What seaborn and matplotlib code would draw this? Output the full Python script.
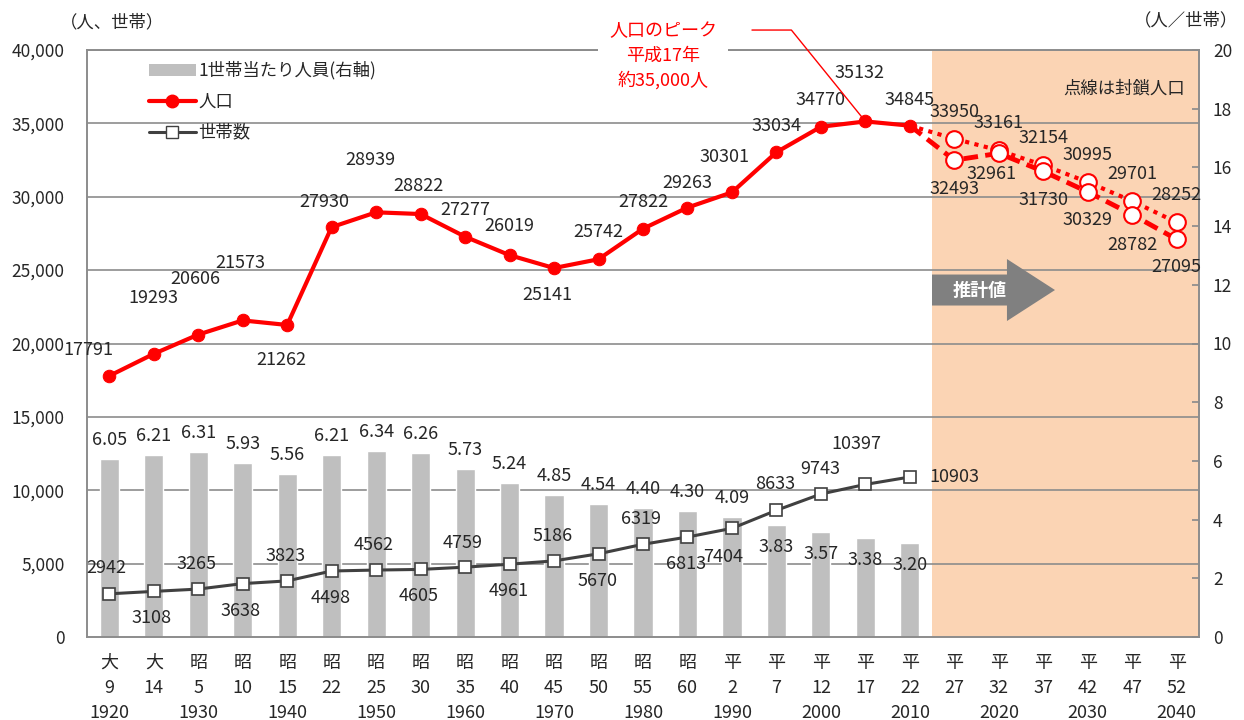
import matplotlib

matplotlib.use("Agg")
import matplotlib.pyplot as plt
import numpy as np
import pandas as pd
import seaborn as sns
from matplotlib.lines import Line2D
from matplotlib.patches import FancyArrow, Patch
from matplotlib.ticker import FuncFormatter, MultipleLocator

sns.set_theme(style="white")
plt.rcParams["font.family"] = ["Noto Sans CJK JP", "DejaVu Sans"]

# ---- data -------------------------------------------------------------
eras = ["大", "大", "昭", "昭", "昭", "昭", "昭", "昭", "昭", "昭", "昭", "昭", "昭",
        "昭", "平", "平", "平", "平", "平", "平", "平", "平", "平", "平", "平"]
era_years = ["9", "14", "5", "10", "15", "22", "25", "30", "35", "40", "45", "50",
             "55", "60", "2", "7", "12", "17", "22", "27", "32", "37", "42", "47", "52"]
years = ["1920", "", "1930", "", "1940", "", "1950", "", "1960", "", "1970", "",
         "1980", "", "1990", "", "2000", "", "2010", "", "2020", "", "2030", "", "2040"]

population = [17791, 19293, 20606, 21573, 21262, 27930, 28939, 28822, 27277, 26019,
              25141, 25742, 27822, 29263, 30301, 33034, 34770, 35132, 34845]
households = [2942, 3108, 3265, 3638, 3823, 4498, 4562, 4605, 4759, 4961,
              5186, 5670, 6319, 6813, 7404, 8633, 9743, 10397, 10903]
persons_per_household = [6.05, 6.21, 6.31, 5.93, 5.56, 6.21, 6.34, 6.26, 5.73, 5.24,
                         4.85, 4.54, 4.40, 4.30, 4.09, 3.83, 3.57, 3.38, 3.20]

# projections 平27..平52 (dotted = closed population)
closed_projection = [33950, 33161, 32154, 30995, 29701, 28252]
projection = [32493, 32961, 31730, 30329, 28782, 27095]

# label offsets in pixels (kept apart from the values)
pop_offsets = [(-21, 26), (0, 56), (-3, 56), (-2, 57), (-6, -35), (-7, 25), (-6, 52),
               (-2, 28), (0, 27), (0, 29), (-7, -27), (0, 27), (0, 27), (0, 25),
               (-7, 35), (0, 26), (0, 27), (-6, 48), (0, 26)]
hh_offsets = [(-3, 26), (-2, -27), (-2, 25), (-2, -27), (-2, 25), (-1, -27), (-2, 25),
              (-2, -27), (-2, 24), (-1, -27), (-1, 25), (-1, -27), (-2, 25), (-1, -27),
              (-9, -29), (-1, 26), (-1, 25), (-9, 40), (44, 0)]
bar_offsets = [19] * 15 + [-22] * 4
closed_offsets = [(0, 27)] * 6
proj_offsets = [(0, -29), (-7, -21), (0, -29), (0, -28), (0, -30), (0, -28)]

# ---- frames -------------------------------------------------------------
n_obs = len(population)
df_obs = pd.DataFrame({
    "pos": np.arange(n_obs),
    "population": population,
    "households": households,
    "persons": persons_per_household,
})
proj_pos = np.arange(n_obs - 1, n_obs + len(projection))
df_proj = pd.DataFrame({
    "pos": proj_pos,
    "closed": [population[-1]] + closed_projection,
    "open": [population[-1]] + projection,
})

RED = "#FF0000"
DARK = "#404040"
BAR = "#BFBFBF"
GRID = "#8C8C8C"
PEACH = "#FBD4B4"
LABEL_SIZE = 13

fig = plt.figure(figsize=(12.44, 7.2), dpi=100)
ax = fig.add_axes([87 / 1244, 83 / 720, 1112 / 1244, 587 / 720])
axr = ax.twinx()
ax.set_zorder(axr.get_zorder() + 1)
ax.patch.set_visible(False)

# right axis: shaded forecast span, grid, bars
axr.set_ylim(0, 20)
axr.axvspan(n_obs - 0.5, len(eras) - 0.5, color=PEACH, lw=0, zorder=0.2)
left_ticks = np.arange(0, 40001, 5000)
for v in left_ticks[1:]:
    axr.axhline(v * 20 / 40000, color=GRID, lw=1.2, zorder=0.5)

sns.barplot(data=df_obs, x="pos", y="persons", ax=axr, color=BAR,
            saturation=1, width=0.43, zorder=1)
for i, (v, dy) in enumerate(zip(persons_per_household, bar_offsets)):
    axr.annotate(f"{v:.2f}", xy=(i, v), xytext=(0, dy), textcoords="offset pixels",
                 ha="center", va="center", fontsize=LABEL_SIZE)

# left axis: lines
sns.lineplot(data=df_proj, x="pos", y="closed", ax=ax, color=RED, lw=3,
             linestyle=(0, (1, 1.3)), marker="o", markersize=12, markerfacecolor="white",
             markeredgecolor=RED, markeredgewidth=1.5, markevery=list(range(1, 7)))
sns.lineplot(data=df_proj, x="pos", y="open", ax=ax, color=RED, lw=3.5,
             linestyle=(0, (3, 1.5)), marker="o", markersize=12, markerfacecolor="white",
             markeredgecolor=RED, markeredgewidth=1.5, markevery=list(range(1, 7)))
sns.lineplot(data=df_obs, x="pos", y="population", ax=ax, color=RED, lw=3,
             marker="o", markersize=9, markeredgecolor=RED)
sns.lineplot(data=df_obs, x="pos", y="households", ax=ax, color=DARK, lw=2.2,
             marker="s", markersize=8.5, markerfacecolor="white",
             markeredgecolor=DARK, markeredgewidth=1.2)

for i, (v, off) in enumerate(zip(population, pop_offsets)):
    ax.annotate(str(v), xy=(i, v), xytext=off, textcoords="offset pixels",
                ha="center", va="center", fontsize=LABEL_SIZE)
for i, (v, off) in enumerate(zip(households, hh_offsets)):
    ax.annotate(str(v), xy=(i, v), xytext=off, textcoords="offset pixels",
                ha="center", va="center", fontsize=LABEL_SIZE)
for p, v, off in zip(proj_pos[1:], closed_projection, closed_offsets):
    ax.annotate(str(v), xy=(p, v), xytext=off, textcoords="offset pixels",
                ha="center", va="center", fontsize=LABEL_SIZE)
for p, v, off in zip(proj_pos[1:], projection, proj_offsets):
    ax.annotate(str(v), xy=(p, v), xytext=off, textcoords="offset pixels",
                ha="center", va="center", fontsize=LABEL_SIZE)

# axes
ax.set_xlim(-0.5, len(eras) - 0.5)
ax.set_ylim(0, 40000)
ax.set_yticks(left_ticks)
ax.yaxis.set_major_formatter(FuncFormatter(lambda v, _: f"{v:,.0f}"))
ax.tick_params(axis="y", length=0, pad=16, labelsize=12.5)
ax.set_xticks(np.arange(len(eras)))
ax.set_xticklabels([f"{e}\n{n}\n{y}" for e, n, y in zip(eras, era_years, years)],
                   fontsize=13, linespacing=1.5)
ax.xaxis.set_minor_locator(MultipleLocator(1, offset=0.5))
ax.tick_params(axis="x", which="major", length=0, pad=12)
ax.tick_params(axis="x", which="minor", direction="in", length=5, color=GRID)
ax.set_xlabel("")
ax.set_ylabel("")

axr.set_yticks(np.arange(0, 21, 2))
axr.tick_params(axis="y", direction="in", length=5, color=GRID, pad=10, labelsize=12.5)
axr.set_xlabel("")
axr.set_ylabel("")
for a in (ax, axr):
    for s in a.spines.values():
        s.set_color(GRID)
        s.set_linewidth(1.2)

# legend
handles = [
    Patch(facecolor=BAR, edgecolor="none"),
    Line2D([], [], color=RED, lw=3, marker="o", markersize=9),
    Line2D([], [], color=DARK, lw=2.2, marker="s", markersize=8.5,
           markerfacecolor="white", markeredgecolor=DARK),
]
ax.legend(handles, ["1世帯当たり人員(右軸)", "人口", "世帯数"], loc="upper left",
          bbox_to_anchor=(0.0558, 0.981), frameon=False, fontsize=12.5,
          handlelength=2.7, handletextpad=0.15, labelspacing=0.75,
          borderaxespad=0, borderpad=0)

# annotations
ax.text(0.518, 0.990, "人口のピーク\n平成17年\n約35,000人", transform=ax.transAxes,
        ha="center", va="center", color=RED, fontsize=13, linespacing=1.45,
        bbox=dict(boxstyle="square,pad=0.6", facecolor="white", edgecolor="none"),
        zorder=10, clip_on=False)
ax.annotate("", xy=(17, population[17]), xycoords="data",
            xytext=(0.598, 1.034), textcoords="axes fraction",
            arrowprops=dict(arrowstyle="-", color=RED, lw=1,
                            connectionstyle="angle,angleA=0,angleB=129,rad=0",
                            shrinkA=0, shrinkB=0), annotation_clip=False)

ax.add_patch(FancyArrow(0.7599, 0.5911, 0.1106, 0, width=0.0528, head_width=0.1056,
                        head_length=0.0432, length_includes_head=True,
                        color="#808080", lw=0, transform=ax.transAxes, zorder=3))
ax.text(0.803, 0.5911, "推計値", transform=ax.transAxes, ha="center", va="center",
        color="white", fontsize=13, fontweight="bold", zorder=4)
ax.text(0.9874, 0.935, "点線は封鎖人口", transform=ax.transAxes, ha="right",
        va="center", fontsize=12.5)

fig.text(60 / 1244, 1 - 22 / 720, "（人、世帯）", ha="left", va="center", fontsize=12.5)
fig.text(1238 / 1244, 1 - 20 / 720, "（人／世帯）", ha="right", va="center", fontsize=12.5)

fig.savefig("out.png", dpi=100)
plt.close(fig)
